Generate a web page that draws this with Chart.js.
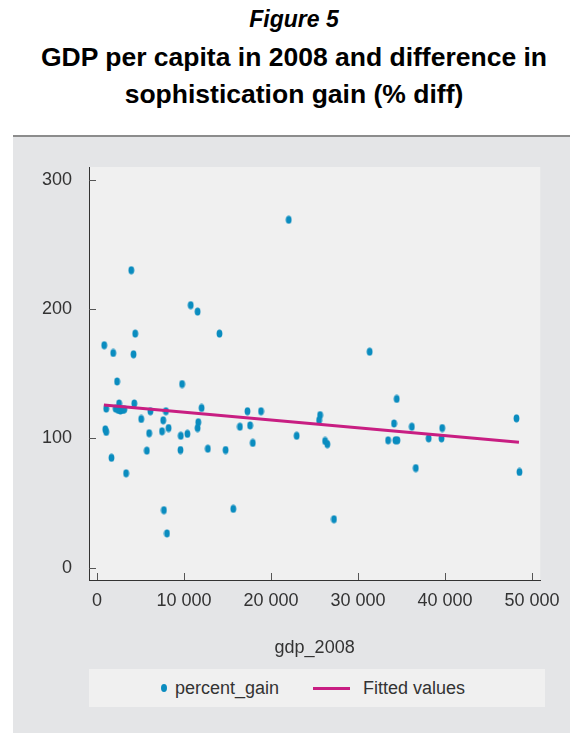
<!DOCTYPE html>
<html>
<head>
<meta charset="utf-8">
<script src="https://cdn.jsdelivr.net/npm/chart.js@4.4.1/dist/chart.umd.min.js"></script>
<style>
html,body{margin:0;padding:0;background:#ffffff;width:570px;height:733px;overflow:hidden;font-family:"Liberation Sans",Arial,Helvetica,sans-serif;}
.tt{position:absolute;left:9px;width:570px;text-align:center;color:#000;font-weight:bold;white-space:nowrap;}
#fig{top:8px;font-size:23px;line-height:23px;font-style:italic;}
#t1{top:44px;font-size:26.5px;line-height:26.5px;}
#t2{top:81px;font-size:26.5px;line-height:26.5px;}
#panel{position:absolute;left:13px;top:135px;width:557px;height:596px;background:#e4e5e7;border-top:2px solid #8c8c8c;}
#wrap{position:absolute;left:0;top:0;width:557px;height:596px;}
#legend{position:absolute;left:76px;top:532px;width:456px;height:38px;background:#f0f0f0;color:#333;font-size:18px;}
#legend .dot{position:absolute;left:72px;top:15px;width:6px;height:8px;border-radius:50%;background:#0a8cbf;}
#legend .ln{position:absolute;left:224px;top:17.5px;width:37px;height:3px;background:#c81e82;}
#legend .lab{position:absolute;top:0;line-height:38px;}
</style>
</head>
<body>
<div id="fig" class="tt">Figure 5</div>
<div id="t1" class="tt">GDP per capita in 2008 and difference in</div>
<div id="t2" class="tt">sophistication gain (% diff)</div>
<div id="panel">
  <div id="wrap"><canvas id="c"></canvas></div>
  <div id="legend">
    <span class="dot"></span><span class="lab" style="left:86px">percent_gain</span>
    <span class="ln"></span><span class="lab" style="left:274px">Fitted values</span>
  </div>
</div>
<script>
// ---- data ----
const gdp2008 = [3950, 10780, 11570, 4400, 14080, 840, 1870, 4210, 22040, 31340,
  2320, 9790, 1070, 2550, 2150, 2450, 2700, 2950, 3150, 4290,
  5090, 6150, 7930, 7620, 7480, 8240, 6000, 5740, 960, 1070,
  1670, 3350, 9640, 10400, 9600, 12030, 11650, 11570, 12750, 14790,
  16430, 17300, 17600, 17910, 7700, 8050, 15670, 18860, 22950, 25650,
  25530, 26220, 26480, 27240, 34450, 34140, 33460, 34300, 34530, 36190,
  36640, 38120, 39680, 39600, 48210, 48560];
const percentGain = [230, 203, 198, 181, 181, 172, 166, 165, 269, 167,
  144, 142, 123, 127, 123, 122, 121.5, 122, 122.5, 127,
  115, 121, 121, 114, 105.5, 108, 104, 90.5, 107, 105,
  85, 73, 102, 103.5, 91, 123.5, 112.5, 108, 92, 91,
  109, 121, 110, 96.5, 44.5, 26.5, 45.5, 121, 102, 118,
  114, 98, 95.5, 37.5, 130.5, 111.5, 98.5, 98.5, 98.5, 109,
  77, 100, 108, 100, 115.5, 74];
const fittedX = [800, 48500];
const fittedY = [125.8, 97.0];
const xTickValues = [0, 10000, 20000, 30000, 40000, 50000];
const xTickLabels = ['0', '10 000', '20 000', '30 000', '40 000', '50 000'];
const yTickValues = [0, 100, 200, 300];
const yTickLabels = ['0', '100', '200', '300'];

const DOT = '#0a8cbf';
const LINE = '#c81e82';
const FONT = '"Liberation Sans", Arial, Helvetica, sans-serif';

function ellipseDot() {
  const c = document.createElement('canvas');
  c.width = 7; c.height = 9;
  const g = c.getContext('2d');
  g.fillStyle = DOT;
  g.beginPath();
  g.ellipse(3.5, 4.5, 2.9, 4, 0, 0, Math.PI * 2);
  g.fill();
  return c;
}

const scatterPts = gdp2008.map((x, i) => ({x: x, y: percentGain[i]}));
const fitPts = fittedX.map((x, i) => ({x: x, y: fittedY[i]}));

const decor = {
  id: 'decor',
  beforeDraw(chart) {
    const {ctx, chartArea: a} = chart;
    ctx.save();
    ctx.fillStyle = '#f0f0f0';
    ctx.fillRect(a.left, a.top, a.right - a.left, a.bottom - a.top);
    ctx.restore();
  },
  beforeDatasetsDraw(chart) {
    const {ctx, chartArea: a, scales} = chart;
    ctx.save();
    ctx.strokeStyle = '#555';
    ctx.lineWidth = 1;
    ctx.beginPath();
    scales.x.ticks.forEach(t => {
      const px = Math.round(scales.x.getPixelForValue(t.value)) + 0.5;
      ctx.moveTo(px, a.bottom);
      ctx.lineTo(px, a.bottom - 7);
    });
    scales.y.ticks.forEach(t => {
      const py = Math.round(scales.y.getPixelForValue(t.value)) + 0.5;
      ctx.moveTo(a.left, py);
      ctx.lineTo(a.left + 7, py);
    });
    ctx.stroke();
    ctx.restore();
  }
};

new Chart(document.getElementById('c'), {
  type: 'scatter',
  data: {
    datasets: [
      {
        label: 'Fitted values',
        type: 'line',
        data: fitPts,
        borderColor: LINE,
        backgroundColor: LINE,
        borderWidth: 3,
        pointRadius: 0,
        fill: false,
        order: 0
      },
      {
        label: 'percent_gain',
        data: scatterPts,
        pointStyle: ellipseDot(),
        backgroundColor: DOT,
        borderColor: DOT,
        order: 1
      }
    ]
  },
  plugins: [decor],
  options: {
    responsive: true,
    maintainAspectRatio: false,
    animation: false,
    layout: {padding: {top: 30, right: 25, bottom: 0, left: 0}},
    plugins: {legend: {display: false}, tooltip: {enabled: false}, title: {display: false}},
    scales: {
      x: {
        type: 'linear',
        min: -910, max: 50944,
        afterBuildTicks: s => { s.ticks = xTickValues.map(v => ({value: v})); },
        afterFit: s => { s.height = 153; },
        ticks: {
          callback: v => xTickLabels[xTickValues.indexOf(v)],
          font: {size: 18, family: FONT}, color: '#333', padding: 10,
          maxRotation: 0, autoSkip: false
        },
        grid: {display: false, drawTicks: false},
        border: {display: true, color: '#333', width: 1},
        title: {display: true, text: 'gdp_2008', color: '#333',
          font: {size: 18, family: FONT}, padding: {top: 0, bottom: 74}}
      },
      y: {
        type: 'linear',
        min: -9.5, max: 309.8,
        afterBuildTicks: s => { s.ticks = yTickValues.map(v => ({value: v})); },
        afterFit: s => { s.width = 76; },
        ticks: {
          callback: v => yTickLabels[yTickValues.indexOf(v)],
          font: {size: 18, family: FONT}, color: '#333', padding: 17,
          autoSkip: false
        },
        grid: {display: false, drawTicks: false},
        border: {display: true, color: '#333', width: 1}
      }
    }
  }
});
</script>
</body>
</html>
